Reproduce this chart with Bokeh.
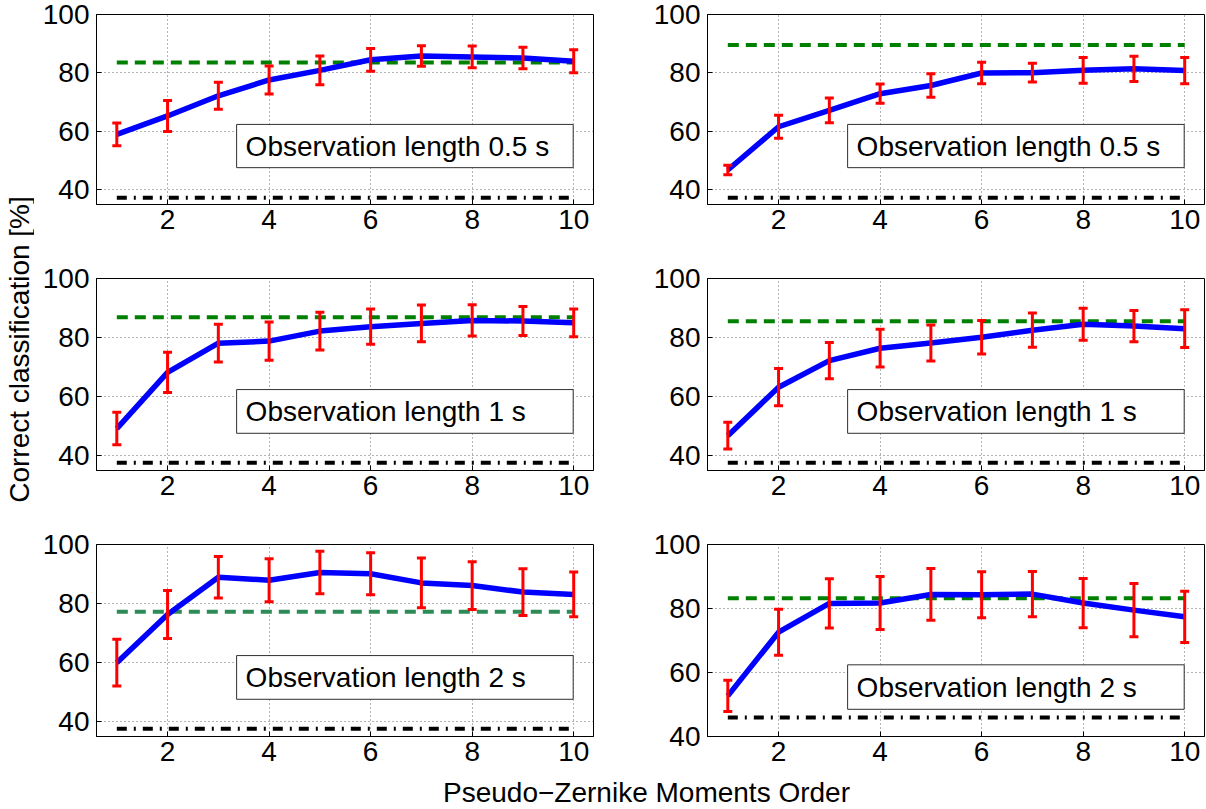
import numpy as np
from bokeh.plotting import figure
from bokeh.layouts import row, column
from bokeh.models import Range1d, FixedTicker, Label, BoxAnnotation
from bokeh.embed import file_html
from bokeh.resources import INLINE

# ---------------- data ----------------
orders = [1, 2, 3, 4, 5, 6, 7, 8, 9, 10]
x_ticks = [2, 4, 6, 8, 10]

# Left column
acc_05_left = [59.0, 65.3, 72.2, 77.6, 80.9, 84.5, 85.8, 85.5, 85.1, 84.0]
err_05_left = [3.9, 5.3, 4.6, 4.8, 4.9, 3.9, 3.5, 3.7, 3.7, 3.9]
acc_1_left = [49.2, 68.2, 78.1, 78.8, 82.2, 83.7, 84.8, 85.8, 85.6, 85.0]
err_1_left = [5.5, 6.8, 6.4, 6.5, 6.4, 6.0, 6.2, 5.3, 4.9, 4.7]
acc_2_left = [60.0, 76.3, 88.9, 87.9, 90.5, 90.1, 87.0, 86.1, 83.9, 83.1]
err_2_left = [7.9, 8.1, 7.0, 7.3, 7.2, 7.1, 8.4, 8.1, 7.9, 7.6]

# Right column
acc_05_right = [46.8, 61.6, 67.2, 72.9, 75.7, 80.0, 80.1, 80.9, 81.4, 80.8]
err_05_right = [1.6, 3.9, 4.2, 3.3, 4.0, 3.7, 3.2, 4.4, 4.3, 4.5]
acc_1_right = [46.8, 63.2, 72.2, 76.4, 78.2, 80.1, 82.5, 84.5, 83.9, 83.0]
err_1_right = [4.5, 6.3, 6.1, 6.4, 6.1, 5.7, 5.8, 5.4, 5.3, 6.4]
acc_2_right = [52.7, 72.6, 81.6, 81.7, 84.4, 84.3, 84.5, 81.7, 79.5, 77.4]
err_2_right = [4.9, 7.2, 7.7, 8.3, 8.1, 7.2, 7.1, 7.7, 8.3, 8.0]

# Horizontal reference levels (green dashed, black dash-dot)
green_levels = [83.6, 89.6, 86.9, 85.5, 77.2, 83.2]
black_levels = [37.3, 37.3, 37.6, 37.6, 37.6, 45.9]

panel_texts = ["Observation length 0.5 s", "Observation length 0.5 s",
               "Observation length 1 s", "Observation length 1 s",
               "Observation length 2 s", "Observation length 2 s"]
y_lows = [35, 35, 35, 35, 35, 40]
y_ticks = [40, 60, 80, 100]

x_title = "Pseudo\u2212Zernike Moments Order"
y_title = "Correct classification [%]"

# ---------------- styling ----------------
FONT = "Liberation Sans"
FS = "28px"
BLUE = "#0000FF"
RED = "#FF0000"
GREENS = ["#008000", "#008000", "#008000", "#008000", "#2E8B57", "#008000"]

FRAME_W = 497


def make_panel(idx, acc, err, left_border, right_border, top_border, bottom_border, frame_h):
    p = figure(frame_width=FRAME_W, frame_height=frame_h,
               min_border_left=left_border, min_border_right=right_border,
               min_border_top=top_border, min_border_bottom=bottom_border,
               x_range=Range1d(0.6, 10.39), y_range=Range1d(y_lows[idx], 100),
               output_backend="svg", toolbar_location=None,
               background_fill_color="white", border_fill_color="white")
    p.outline_line_color = "black"
    p.outline_line_width = 1
    p.outline_line_alpha = 1

    for ax in (p.xaxis, p.yaxis):
        ax.axis_label = None
        ax.major_label_text_font = FONT
        ax.major_label_text_font_size = FS
        ax.major_label_text_color = "black"
        ax.axis_line_color = "black"
        ax.major_tick_line_color = "black"
        ax.major_tick_in = 5
        ax.major_tick_out = 0
        ax.minor_tick_line_color = None
    p.xaxis.ticker = FixedTicker(ticks=x_ticks)
    p.yaxis.ticker = FixedTicker(ticks=y_ticks)
    p.xaxis.major_label_standoff = 5
    p.yaxis.major_label_standoff = 7

    p.xgrid.ticker = FixedTicker(ticks=x_ticks)
    p.ygrid.ticker = FixedTicker(ticks=y_ticks)
    for g in (p.xgrid, p.ygrid):
        g.grid_line_color = "black"
        g.grid_line_alpha = 0.6
        g.grid_line_width = 1
        g.grid_line_dash = "1 3"

    xs = [orders[0], orders[-1]]
    # black dash-dot
    p.line(xs, [black_levels[idx]] * 2, line_color="black", line_width=4,
           line_dash="10 7 2 7")
    # green dashed
    p.line(xs, [green_levels[idx]] * 2, line_color=GREENS[idx], line_width=4,
           line_dash="11 7")
    # blue mean line
    p.line(orders, acc, line_color=BLUE, line_width=5.5, line_join="round")
    # red error bars
    a = np.array(acc)
    e = np.array(err)
    lo = a - e
    hi = a + e
    p.segment(x0=orders, y0=lo, x1=orders, y1=hi, line_color=RED, line_width=3)
    p.scatter(orders, hi, marker="dash", size=9, line_color=RED, line_width=3)
    p.scatter(orders, lo, marker="dash", size=9, line_color=RED, line_width=3)

    # text box
    if idx == 5:
        b0, b1 = 48.5, 62.4
    else:
        b0, b1 = 47.6, 62.4
    box = BoxAnnotation(left=3.36, right=9.99, bottom=b0, top=b1,
                        fill_color="white", fill_alpha=1.0,
                        line_color="#303030", line_width=1, line_alpha=1)
    p.add_layout(box)
    lab = Label(x=3.36, y=(b0 + b1) / 2, x_offset=9, y_offset=0,
                text=panel_texts[idx], text_font=FONT, text_font_size=FS,
                text_color="black", text_baseline="middle", text_align="left")
    p.add_layout(lab)
    return p


YF_W = 34
LEFT_B = 96 - YF_W
RIGHT_GAP = 707 - (YF_W + LEFT_B + FRAME_W + 2)

data = [(acc_05_left, err_05_left), (acc_05_right, err_05_right),
        (acc_1_left, err_1_left), (acc_1_right, err_1_right),
        (acc_2_left, err_2_left), (acc_2_right, err_2_right)]

tops = [14, 37, 37]
frames_h = [190, 192, 192]
bottoms = [37, 37, 37]

rows = []
for r in range(3):
    li = 2 * r
    ri = 2 * r + 1
    pl = make_panel(li, data[li][0], data[li][1], LEFT_B, 2, tops[r], bottoms[r], frames_h[r])
    pr = make_panel(ri, data[ri][0], data[ri][1], RIGHT_GAP, 1, tops[r], bottoms[r], frames_h[r])
    rows.append(row(pl, pr))

col_w = (LEFT_B + FRAME_W + 2) + (RIGHT_GAP + FRAME_W + 1)
rows_h = sum(t + f + b for t, f, b in zip(tops, frames_h, bottoms))
TOTAL_H = 808
XF_H = TOTAL_H - rows_h

# x title figure (no title, no axes: frame = whole canvas)
xf = figure(width=col_w, height=XF_H, x_range=Range1d(0, col_w), y_range=Range1d(0, XF_H),
            min_border=0, output_backend="svg", toolbar_location=None, title=None,
            x_axis_location=None, y_axis_location=None)
xf.grid.visible = False
xf.outline_line_color = None
xf.add_layout(Label(x=646 - YF_W, y=TOTAL_H - 792, text=x_title, text_font=FONT,
                    text_font_size=FS, text_color="black",
                    text_align="center", text_baseline="middle"))

# y title figure
yf = figure(width=YF_W, height=TOTAL_H, x_range=Range1d(0, YF_W), y_range=Range1d(0, TOTAL_H),
            min_border=0, output_backend="svg", toolbar_location=None, title=None,
            x_axis_location=None, y_axis_location=None)
yf.grid.visible = False
yf.outline_line_color = None
yf.add_layout(Label(x=19, y=TOTAL_H - 349, text=y_title, text_font=FONT,
                    text_font_size=FS, text_color="black", angle=np.pi / 2,
                    text_align="center", text_baseline="middle"))

layout = row(yf, column(*rows, xf))

open("out.html", "w").write(file_html(layout, INLINE))
